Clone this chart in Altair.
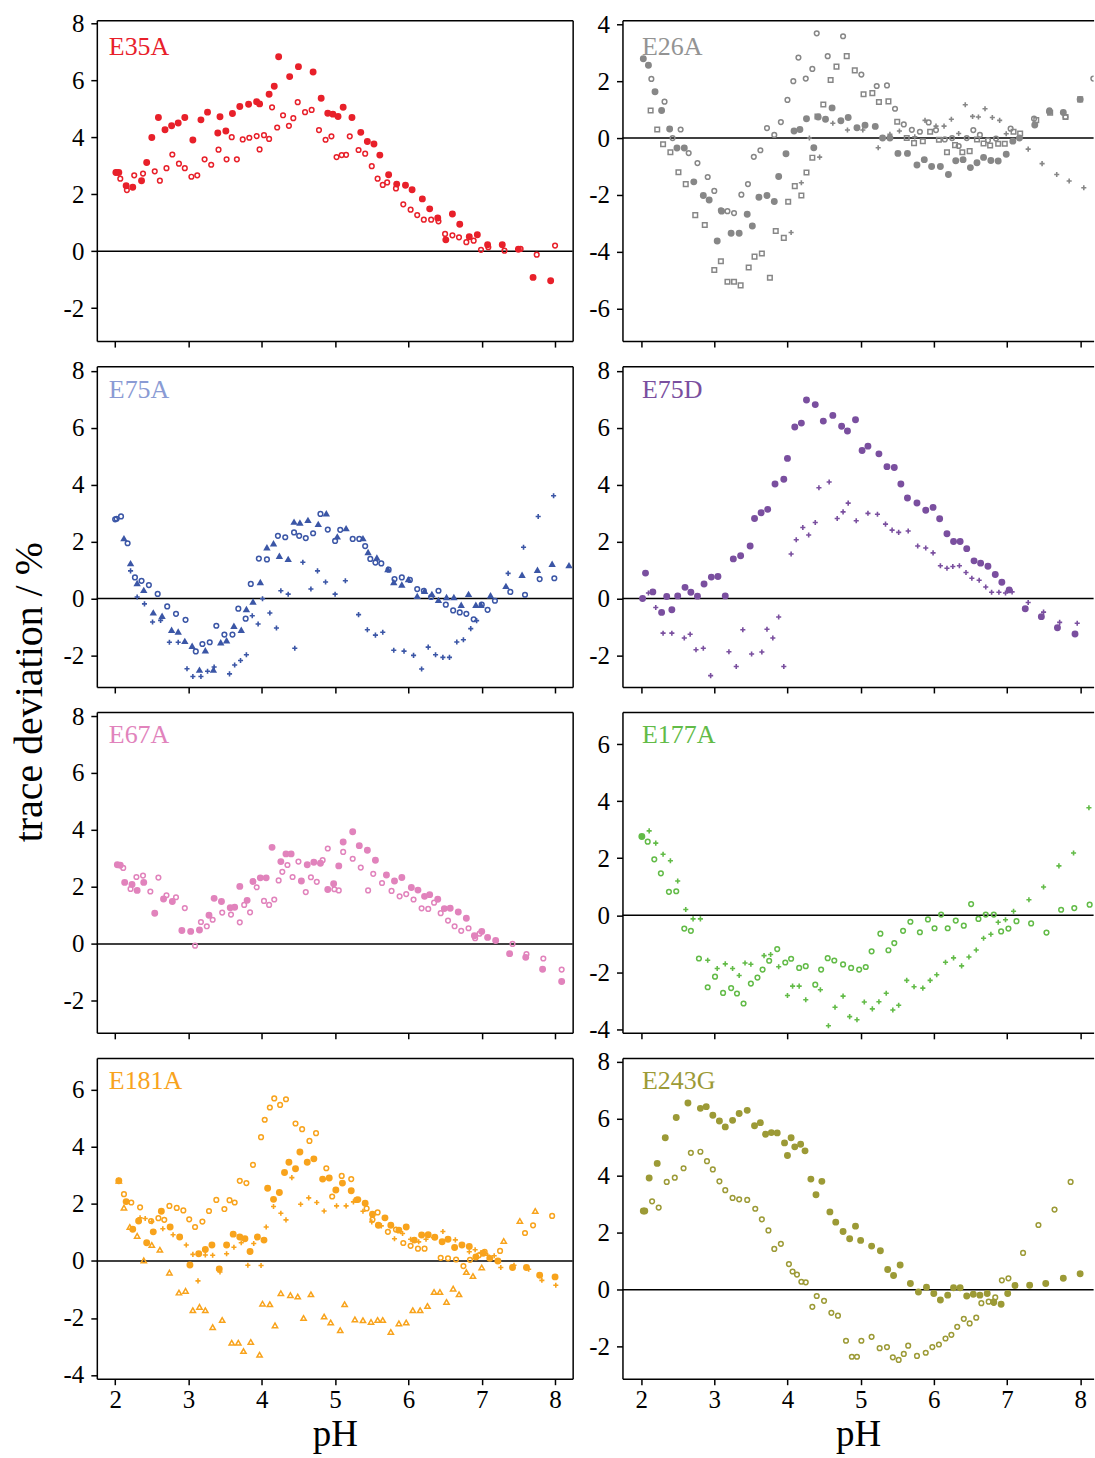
import altair as alt
import pandas as pd

FONT = "Liberation Serif"
PLUS = "M-1,0L1,0M0,-1L0,1"

# ---------------- data (pH, trace deviation %) ----------------
E35A_fc_ph = [2.01,2.05,2.15,2.24,2.36,2.43,2.50,2.59,2.68,2.77,2.86,2.95,3.06,3.17,3.26,3.40,3.43,3.51,3.60,3.70,3.82,3.93,3.97,4.10,4.17,4.23,4.38,4.50,4.70,4.81,4.90,4.97,5.04,5.11,5.23,5.35,5.44,5.53,5.61,5.73,5.84,5.96,6.05,6.19,6.29,6.40,6.51,6.60,6.70,6.83,6.94,7.08,7.28,7.50,7.70,7.94]
E35A_fc_v = [2.77,2.77,2.30,2.25,2.48,3.12,4.00,4.70,4.27,4.41,4.51,4.70,3.91,4.62,4.89,4.16,4.73,4.23,4.84,5.09,5.17,5.26,5.18,5.52,5.80,6.84,6.14,6.49,6.30,5.38,4.85,4.82,4.74,5.06,4.70,4.18,3.86,3.77,3.38,2.69,2.36,2.32,2.16,1.84,1.49,1.17,0.40,1.31,0.95,0.51,0.58,0.23,0.23,0.07,-0.92,-1.04]
E35A_oc_ph = [2.02,2.07,2.16,2.26,2.38,2.54,2.61,2.70,2.78,2.87,2.95,3.04,3.12,3.22,3.31,3.41,3.52,3.59,3.66,3.74,3.83,3.93,3.97,4.03,4.10,4.14,4.21,4.29,4.37,4.43,4.49,4.59,4.68,4.78,4.87,4.95,5.02,5.09,5.15,5.20,5.32,5.41,5.50,5.58,5.65,5.71,5.83,5.93,6.03,6.12,6.21,6.31,6.41,6.50,6.60,6.69,6.79,6.89,6.99,7.09,7.31,7.53,7.75,8.00]
E35A_oc_v = [2.77,2.55,2.15,2.67,2.73,2.81,2.48,2.92,3.40,3.08,2.92,2.62,2.67,3.23,3.04,3.57,3.23,4.01,3.23,3.93,3.99,4.05,3.58,4.08,3.95,5.06,4.35,4.78,4.41,4.68,5.24,4.89,4.97,4.26,3.92,4.04,3.31,3.38,3.39,4.04,3.56,3.43,2.99,2.55,2.33,2.42,2.21,1.65,1.46,1.27,1.11,1.11,1.05,0.61,0.56,0.49,0.32,0.37,0.05,0.14,0.02,0.08,-0.12,0.20]

E26A_fc_ph = [2.03,2.10,2.19,2.28,2.39,2.49,2.59,2.72,2.85,2.93,3.04,3.10,3.23,3.34,3.45,3.52,3.61,3.72,3.82,3.88,3.98,4.09,4.17,4.26,4.36,4.42,4.52,4.61,4.73,4.83,4.95,5.06,5.20,5.30,5.40,5.51,5.64,5.77,5.87,5.97,6.09,6.20,6.30,6.40,6.50,6.59,6.68,6.78,6.88,6.99,7.08,7.17,7.38,7.58,7.77,8.00]
E26A_fc_v = [2.79,2.56,1.63,0.97,0.32,-0.35,-0.35,-1.54,-2.02,-2.18,-3.62,-2.57,-3.35,-3.35,-2.68,-3.09,-2.08,-2.02,-2.23,-1.35,-0.55,0.25,0.30,0.68,-0.34,0.74,0.66,1.06,0.61,0.72,0.36,0.45,0.41,0.00,0.00,-0.54,-0.54,-0.95,-0.76,-1.00,-1.00,-1.28,-0.80,-0.76,-1.04,-0.87,-0.68,-0.79,-0.81,-0.57,-0.11,0.00,0.46,0.93,0.90,1.36]
E26A_oc_ph = [2.14,2.32,2.43,2.54,2.65,2.77,2.91,3.00,3.09,3.18,3.27,3.37,3.46,3.54,3.63,3.72,3.82,3.91,4.00,4.08,4.15,4.25,4.34,4.40,4.55,4.76,5.01,5.22,5.36,5.47,5.59,5.70,5.81,5.93,6.03,6.15,6.25,6.34,6.45,6.54,6.63,6.74,6.85,7.05,7.37,7.58,7.80,8.18]
E26A_oc_v = [2.08,1.28,0.00,0.30,-0.53,-0.88,-1.37,-1.86,-2.54,-2.57,-2.64,-1.99,-1.62,-0.66,-0.43,0.35,0.11,0.56,1.34,2.00,2.83,2.09,2.43,3.68,2.88,3.58,2.23,1.83,1.85,1.03,0.48,0.29,0.22,0.55,0.28,-0.05,0.00,-0.28,0.00,0.28,0.11,-0.08,-0.02,0.33,0.68,0.97,0.74,2.09]
E26A_os_ph = [2.13,2.22,2.30,2.40,2.51,2.61,2.74,2.87,3.00,3.09,3.18,3.27,3.36,3.47,3.55,3.65,3.76,3.84,3.95,4.01,4.10,4.19,4.26,4.34,4.41,4.49,4.59,4.67,4.81,4.92,5.04,5.16,5.25,5.38,5.50,5.63,5.73,5.85,5.95,6.07,6.18,6.29,6.39,6.49,6.59,6.68,6.77,6.88,6.97,7.09,7.18,7.40,7.59,7.80,8.00]
E26A_os_v = [0.97,0.30,-0.22,-0.50,-1.20,-1.62,-2.71,-3.06,-4.64,-4.33,-5.05,-5.05,-5.18,-4.55,-4.17,-4.06,-4.91,-3.27,-3.51,-2.24,-1.69,-2.02,-1.21,-0.69,0.76,1.18,2.04,2.51,2.88,2.38,1.54,1.58,1.27,1.29,0.57,0.00,-0.18,-0.11,0.22,-0.06,-0.50,-0.25,-0.50,-0.46,-0.05,-0.19,-0.26,-0.20,-0.20,0.22,0.16,0.63,0.89,0.74,1.36]
E26A_pl_ph = [4.05,4.19,4.30,4.44,4.62,4.82,5.03,5.24,5.40,5.53,5.74,5.88,6.03,6.14,6.24,6.34,6.43,6.53,6.61,6.70,6.80,6.90,6.99,7.29,7.48,7.68,7.85,8.05]
E26A_pl_v = [-3.32,-1.57,0.00,-0.67,0.52,0.28,0.28,-0.34,0.13,0.25,0.04,0.62,0.42,0.42,0.66,0.16,1.17,0.76,0.74,1.03,0.72,0.62,0.15,-0.39,-0.90,-1.28,-1.51,-1.75]

E75A_ft_ph = [2.12,2.21,2.30,2.39,2.52,2.64,2.77,2.86,2.95,3.05,3.15,3.23,3.34,3.44,3.52,3.62,3.72,3.79,3.88,3.98,4.07,4.16,4.24,4.36,4.44,4.52,4.63,4.77,4.88,5.03,5.15,5.38,5.45,5.57,5.72,5.80,5.91,6.00,6.12,6.22,6.32,6.41,6.52,6.62,6.72,6.82,6.92,6.99,7.12,7.33,7.55,7.76,7.96,8.19]
E75A_ft_v = [2.12,1.24,0.54,0.30,-0.49,-0.61,-1.10,-1.16,-1.49,-1.66,-2.50,-1.82,-2.50,-1.54,-1.47,-0.96,-1.10,-0.37,-0.11,0.58,1.80,1.94,1.50,1.39,2.70,2.67,2.76,2.62,2.99,2.18,2.47,2.12,1.63,1.44,1.03,0.58,0.49,0.68,0.09,0.27,0.16,-0.05,0.05,0.05,-0.22,0.16,-0.22,-0.22,0.11,0.44,0.83,1.01,1.22,1.17]
E75A_oc_ph = [2.00,2.02,2.08,2.17,2.27,2.36,2.46,2.58,2.71,2.83,2.96,3.10,3.19,3.29,3.38,3.49,3.60,3.68,3.78,3.85,3.96,4.07,4.22,4.32,4.44,4.51,4.60,4.70,4.80,4.90,5.00,5.07,5.24,5.33,5.41,5.48,5.55,5.63,5.73,5.81,5.91,6.02,6.12,6.21,6.31,6.41,6.51,6.61,6.70,6.79,6.89,7.00,7.08,7.18,7.39,7.59,7.79,7.99]
E75A_oc_v = [2.78,2.80,2.88,1.94,0.74,0.62,0.47,0.16,-0.28,-0.54,-0.75,-1.86,-1.60,-1.54,-0.96,-1.27,-1.27,-0.36,-0.71,0.51,1.40,1.37,2.20,2.15,2.32,2.20,2.12,2.29,2.97,2.42,2.02,2.41,2.09,2.09,1.84,1.39,1.26,1.23,1.01,0.68,0.74,0.65,0.33,0.27,0.05,0.27,-0.22,-0.42,-0.49,-0.54,-0.73,-0.22,-0.40,-0.08,0.23,0.13,0.68,0.71]
E75A_pl_ph = [2.21,2.30,2.40,2.51,2.62,2.74,2.86,2.98,3.06,3.17,3.26,3.35,3.56,3.63,3.71,3.79,3.87,3.95,4.01,4.11,4.20,4.26,4.36,4.45,4.56,4.67,4.76,4.87,5.00,5.14,5.32,5.44,5.55,5.65,5.80,5.94,6.07,6.18,6.27,6.37,6.47,6.56,6.66,6.75,6.85,6.93,7.36,7.57,7.77,7.98]
E75A_pl_v = [0.97,0.05,-0.19,-0.83,-0.77,-1.54,-1.54,-2.47,-2.74,-2.74,-2.56,-2.41,-2.65,-2.34,-2.18,-1.98,-0.61,-0.90,-0.01,-0.51,-1.04,0.27,0.15,-1.75,1.27,0.33,0.97,0.58,0.15,0.62,-0.57,-1.10,-1.29,-1.19,-1.82,-1.85,-2.00,-2.48,-1.71,-1.98,-2.07,-2.07,-1.53,-1.45,-1.06,-0.78,0.88,1.80,2.88,3.61]

E75D_fc_ph = [2.02,2.06,2.16,2.28,2.35,2.42,2.50,2.60,2.68,2.77,2.86,2.96,3.05,3.15,3.26,3.36,3.49,3.55,3.64,3.73,3.83,3.95,4.00,4.10,4.19,4.26,4.38,4.49,4.62,4.74,4.82,4.93,5.02,5.10,5.25,5.36,5.46,5.55,5.64,5.77,5.89,5.99,6.08,6.18,6.27,6.36,6.45,6.55,6.64,6.74,6.84,6.93,7.03,7.25,7.47,7.69,7.93]
E75D_fc_v = [0.00,0.89,0.23,-0.49,0.07,-0.40,0.09,0.39,0.22,0.08,0.51,0.75,0.77,0.09,1.39,1.50,1.84,2.81,3.01,3.13,4.02,4.19,4.92,6.02,6.16,6.97,6.81,6.23,6.43,6.05,5.88,6.28,5.20,5.35,5.08,4.63,4.60,4.02,3.53,3.35,3.10,3.20,2.80,2.27,2.00,2.00,1.75,1.32,1.24,1.13,0.84,0.57,0.30,-0.36,-0.64,-1.03,-1.25]
E75D_pl_ph = [2.10,2.20,2.30,2.42,2.59,2.67,2.75,2.85,2.95,3.20,3.30,3.39,3.51,3.65,3.72,3.80,3.88,3.95,4.05,4.12,4.21,4.29,4.38,4.43,4.57,4.68,4.76,4.83,4.94,5.10,5.23,5.34,5.43,5.52,5.65,5.78,5.89,5.99,6.09,6.18,6.26,6.35,6.44,6.52,6.62,6.71,6.79,6.89,6.98,7.07,7.29,7.50,7.72,7.96]
E75D_pl_v = [0.19,-0.32,-1.22,-1.22,-1.39,-1.26,-1.80,-1.75,-2.71,-1.87,-2.39,-1.10,-1.95,-1.88,-1.08,-1.39,-0.65,-2.39,1.56,2.06,2.49,2.23,2.67,3.89,4.09,2.81,3.04,3.35,2.73,2.99,2.96,2.61,2.40,2.32,2.37,1.84,1.77,1.60,1.15,1.06,1.12,1.15,0.91,0.71,0.64,0.40,0.22,0.22,0.19,0.23,-0.14,-0.48,-0.84,-0.87]

E67A_fc_ph = [2.03,2.07,2.13,2.23,2.30,2.39,2.54,2.66,2.78,2.91,3.03,3.15,3.28,3.35,3.45,3.57,3.63,3.70,3.80,3.88,3.98,4.06,4.14,4.26,4.33,4.40,4.54,4.62,4.71,4.80,4.90,4.98,5.05,5.11,5.24,5.33,5.44,5.55,5.70,5.81,5.91,6.04,6.13,6.22,6.29,6.40,6.49,6.57,6.68,6.79,6.90,7.00,7.08,7.19,7.38,7.60,7.83,8.09]
E67A_fc_v = [2.78,2.76,2.16,2.09,1.88,2.16,1.08,1.58,1.49,0.47,0.44,0.49,1.01,1.60,1.49,1.27,1.29,2.02,1.53,2.19,2.32,2.32,3.39,2.89,3.16,3.16,2.21,2.78,2.87,2.83,1.91,2.11,2.74,3.58,3.94,3.45,3.29,2.94,2.42,2.21,2.33,1.98,1.89,1.67,1.73,1.57,1.24,1.25,1.12,0.90,0.29,0.44,0.23,0.12,-0.34,-0.47,-0.89,-1.32]
E67A_oc_ph = [2.11,2.21,2.29,2.38,2.48,2.59,2.70,2.83,2.95,3.09,3.17,3.25,3.33,3.46,3.58,3.70,3.76,3.84,3.93,4.03,4.10,4.17,4.23,4.28,4.35,4.42,4.50,4.60,4.67,4.75,4.83,4.90,4.99,5.05,5.11,5.24,5.35,5.45,5.52,5.64,5.77,5.88,5.97,6.07,6.18,6.27,6.35,6.44,6.54,6.63,6.72,6.82,6.91,6.97,7.42,7.61,7.84,8.09]
E67A_oc_v = [2.67,1.93,2.35,2.40,1.84,2.33,1.71,1.64,1.26,-0.06,0.77,0.62,0.85,1.10,1.03,0.76,1.37,1.11,1.99,1.51,1.37,1.56,2.23,2.53,2.77,2.35,2.89,1.82,2.34,2.18,2.94,3.35,1.92,1.88,3.23,2.99,2.68,1.88,2.46,2.14,1.86,1.67,1.75,1.56,1.25,1.23,1.45,1.08,0.82,0.62,0.46,0.55,0.20,0.36,0.00,-0.36,-0.51,-0.90]

E177A_fc_ph = [2.01]
E177A_fc_v = [2.76]
E177A_oc_ph = [2.09,2.18,2.27,2.38,2.48,2.59,2.68,2.79,2.91,3.01,3.12,3.23,3.31,3.40,3.50,3.59,3.66,3.75,3.86,3.97,4.05,4.16,4.25,4.38,4.46,4.55,4.64,4.76,4.87,4.98,5.07,5.15,5.27,5.38,5.46,5.58,5.68,5.81,5.92,6.01,6.10,6.19,6.30,6.41,6.51,6.61,6.71,6.82,6.92,7.02,7.13,7.33,7.54,7.74,7.92,8.13]
E177A_oc_v = [2.58,1.96,1.47,0.82,0.84,-0.47,-0.55,-1.52,-2.53,-2.16,-2.73,-2.56,-2.75,-3.10,-2.40,-2.19,-1.91,-1.60,-1.19,-1.66,-1.53,-1.85,-1.79,-2.44,-1.91,-1.51,-1.59,-1.73,-1.85,-1.91,-1.82,-1.27,-0.65,-1.23,-0.98,-0.55,-0.23,-0.60,-0.15,-0.46,0.02,-0.46,-0.19,-0.37,0.39,-0.13,0.02,0.02,-0.57,-0.47,-0.21,-0.29,-0.61,0.19,0.25,0.37]
E177A_pl_ph = [2.11,2.20,2.30,2.40,2.50,2.61,2.71,2.81,2.91,3.04,3.15,3.25,3.34,3.42,3.50,3.68,3.77,3.88,4.00,4.07,4.16,4.25,4.45,4.56,4.65,4.76,4.85,4.95,5.05,5.16,5.25,5.35,5.44,5.52,5.63,5.73,5.85,5.95,6.04,6.16,6.27,6.38,6.48,6.58,6.68,6.78,6.88,6.98,7.09,7.30,7.50,7.71,7.91,8.12]
E177A_pl_v = [2.96,2.53,2.14,1.91,1.20,0.20,-0.13,-0.13,-1.58,-1.87,-1.71,-1.87,-2.12,-1.68,-1.72,-1.42,-1.38,-1.81,-2.82,-2.49,-2.49,-2.97,-2.62,-3.88,-3.23,-2.84,-3.56,-3.67,-3.05,-3.29,-3.04,-2.74,-3.33,-3.16,-2.29,-2.51,-2.56,-2.29,-2.09,-1.65,-1.50,-1.78,-1.47,-1.22,-0.81,-0.67,-0.25,-0.16,0.14,0.54,0.99,1.73,2.18,3.77]

E181A_fc_ph = [2.05,2.15,2.24,2.32,2.43,2.52,2.63,2.75,2.88,3.02,3.14,3.23,3.32,3.42,3.52,3.61,3.70,3.77,3.84,3.94,4.03,4.08,4.16,4.24,4.31,4.37,4.46,4.52,4.62,4.71,4.83,4.92,5.01,5.10,5.22,5.31,5.41,5.51,5.59,5.68,5.76,5.87,5.97,6.08,6.18,6.27,6.36,6.46,6.54,6.63,6.73,6.83,6.92,7.02,7.11,7.22,7.42,7.61,7.79,8.00]
E181A_fc_v = [2.81,2.08,1.11,1.40,0.64,1.02,1.74,1.19,0.84,-0.14,0.25,0.40,0.56,-0.28,0.56,0.94,0.84,0.78,0.33,0.84,0.73,2.55,2.16,2.40,3.10,3.46,3.23,3.82,3.46,3.58,2.87,2.91,2.49,2.73,2.46,2.15,2.02,1.64,1.25,1.51,1.25,1.08,1.19,0.73,0.91,0.92,0.83,0.67,0.76,0.47,0.56,0.51,0.14,0.27,0.09,0.00,-0.23,-0.23,-0.50,-0.56]
E181A_oc_ph = [2.12,2.22,2.34,2.49,2.59,2.67,2.74,2.84,2.93,3.01,3.09,3.19,3.28,3.38,3.49,3.56,3.63,3.70,3.79,3.88,3.99,4.04,4.11,4.17,4.25,4.33,4.46,4.55,4.65,4.74,4.88,4.96,5.09,5.22,5.29,5.43,5.51,5.58,5.72,5.83,5.93,6.03,6.13,6.22,6.44,6.54,6.65,6.75,6.84,6.96,7.04,7.25,7.59,7.70,7.96]
E181A_oc_v = [2.34,2.05,1.88,1.40,1.50,1.44,1.93,1.86,1.77,1.46,1.19,1.38,1.75,2.14,1.82,2.13,2.05,2.81,2.73,3.37,4.34,4.95,5.38,5.70,5.47,5.67,4.82,4.62,4.21,4.48,3.25,2.26,2.98,2.87,2.14,1.84,1.45,1.70,1.02,1.10,0.63,0.53,0.43,0.43,0.11,0.09,0.05,-0.18,0.04,0.20,0.32,0.35,0.98,1.25,1.58]
E181A_ot_ph = [2.05,2.12,2.20,2.30,2.39,2.50,2.61,2.74,2.87,2.96,3.06,3.15,3.23,3.33,3.46,3.59,3.68,3.75,3.85,3.97,4.01,4.11,4.18,4.26,4.39,4.49,4.57,4.67,4.85,4.94,5.07,5.13,5.27,5.38,5.49,5.58,5.65,5.76,5.87,5.97,6.06,6.16,6.26,6.35,6.43,6.52,6.61,6.69,6.79,6.88,7.00,7.30,7.52,7.73]
E181A_ot_v = [2.81,1.87,1.19,0.88,0.02,0.56,0.39,-0.41,-1.11,-1.05,-1.73,-1.61,-1.73,-2.32,-2.07,-2.87,-2.87,-3.16,-2.84,-3.29,-1.50,-1.52,-2.26,-1.13,-1.20,-1.25,-2.00,-1.17,-1.95,-2.16,-2.43,-1.52,-2.05,-2.08,-2.14,-2.07,-2.07,-2.49,-2.19,-2.16,-1.73,-1.73,-1.58,-1.09,-1.09,-1.44,-0.97,-1.17,-0.39,-0.53,-0.23,0.70,1.40,1.75]
E181A_pl_ph = [2.34,2.41,2.50,2.65,2.79,2.97,3.06,3.13,3.23,3.33,3.43,3.52,3.62,3.72,3.81,3.89,3.99,4.06,4.16,4.26,4.33,4.41,4.53,4.64,4.75,4.85,5.02,5.15,5.25,5.38,5.50,5.63,5.81,5.92,6.03,6.14,6.24,6.34,6.47,6.64,6.83,6.91,6.99,7.08,7.17,7.26,7.44,7.64,7.82,8.01]
E181A_pl_v = [1.51,1.49,1.38,1.13,0.92,0.56,0.23,-0.70,0.21,0.20,-0.39,0.25,0.48,0.64,-0.15,0.61,-0.16,1.19,1.91,1.67,1.44,2.92,1.99,2.21,2.05,1.75,1.93,1.93,2.07,1.74,1.37,1.23,0.78,0.96,0.76,0.67,0.76,0.82,1.03,0.74,0.32,0.39,0.29,0.20,0.18,-0.23,-0.15,-0.29,-0.68,-0.85]

E243G_fc_ph = [2.03,2.05,2.11,2.22,2.33,2.48,2.64,2.81,2.89,2.98,3.07,3.15,3.25,3.34,3.45,3.55,3.63,3.70,3.78,3.86,3.96,4.00,4.05,4.10,4.18,4.24,4.32,4.39,4.47,4.58,4.66,4.76,4.85,4.93,5.00,5.15,5.27,5.37,5.45,5.54,5.68,5.79,5.90,6.00,6.09,6.19,6.27,6.36,6.45,6.54,6.63,6.73,6.82,6.92,7.01,7.11,7.31,7.53,7.77,8.00]
E243G_fc_v = [2.76,2.76,3.92,4.43,5.33,6.04,6.55,6.36,6.42,6.12,5.92,5.71,5.94,6.18,6.29,5.75,5.86,5.45,5.51,5.50,5.15,4.71,5.33,5.01,5.10,4.87,3.88,3.33,3.80,2.73,2.37,2.04,1.79,2.23,1.73,1.53,1.37,0.71,0.50,0.87,0.22,-0.08,0.09,-0.13,-0.36,-0.19,0.07,0.07,-0.22,-0.16,-0.19,-0.13,-0.43,-0.51,-0.13,0.15,0.16,0.22,0.40,0.56]
E243G_oc_ph = [2.15,2.24,2.35,2.46,2.58,2.68,2.81,2.90,2.98,3.07,3.15,3.25,3.34,3.45,3.56,3.65,3.74,3.82,3.91,4.02,4.07,4.13,4.19,4.25,4.34,4.40,4.50,4.60,4.69,4.80,4.88,4.95,5.01,5.15,5.26,5.36,5.44,5.52,5.59,5.65,5.77,5.89,5.98,6.07,6.16,6.24,6.32,6.41,6.49,6.58,6.65,6.75,6.82,6.84,6.93,7.02,7.22,7.43,7.65,7.87]
E243G_oc_v = [3.10,2.88,3.78,3.93,4.26,4.80,4.84,4.51,4.22,3.80,3.49,3.22,3.17,3.15,2.84,2.47,2.08,1.43,1.61,0.90,0.64,0.53,0.28,0.26,-0.60,-0.22,-0.39,-0.81,-0.91,-1.79,-2.35,-2.35,-1.79,-1.65,-2.05,-2.01,-2.37,-2.46,-2.25,-1.96,-2.32,-2.21,-2.01,-1.92,-1.71,-1.58,-1.30,-1.02,-1.18,-0.98,-0.47,-0.42,-0.46,-0.27,0.33,0.40,1.29,2.27,2.81,3.78]

X_TICKS = [2, 3, 4, 5, 6, 7, 8]
Y_TICKS_A = [-2, 0, 2, 4, 6, 8]
Y_TICKS_B = [-6, -4, -2, 0, 2, 4]
Y_TICKS_C = [-4, -2, 0, 2, 4, 6]

# name, point colour, label colour, y domain, y ticks, series
PANELS = [
    ("E35A", "#e8202a", "#e8202a", [-3.16, 8.12], Y_TICKS_A,
     [("fc", E35A_fc_ph, E35A_fc_v), ("oc", E35A_oc_ph, E35A_oc_v)]),
    ("E26A", "#878787", "#939393", [-7.14, 4.14], Y_TICKS_B,
     [("os", E26A_os_ph, E26A_os_v), ("oc", E26A_oc_ph, E26A_oc_v),
      ("pl", E26A_pl_ph, E26A_pl_v), ("fc", E26A_fc_ph, E26A_fc_v)]),
    ("E75A", "#3b56a6", "#8a9bd4", [-3.11, 8.16], Y_TICKS_A,
     [("pl", E75A_pl_ph, E75A_pl_v), ("oc", E75A_oc_ph, E75A_oc_v), ("ft", E75A_ft_ph, E75A_ft_v)]),
    ("E75D", "#7a4f9f", "#7a4f9f", [-3.11, 8.16], Y_TICKS_A,
     [("pl", E75D_pl_ph, E75D_pl_v), ("fc", E75D_fc_ph, E75D_fc_v)]),
    ("E67A", "#e183bc", "#e183bc", [-3.12, 8.14], Y_TICKS_A,
     [("oc", E67A_oc_ph, E67A_oc_v), ("fc", E67A_fc_ph, E67A_fc_v)]),
    ("E177A", "#62bb47", "#62bb47", [-4.13, 7.13], Y_TICKS_C,
     [("pl", E177A_pl_ph, E177A_pl_v), ("oc", E177A_oc_ph, E177A_oc_v), ("fc", E177A_fc_ph, E177A_fc_v)]),
    ("E181A", "#f8a31c", "#f8a31c", [-4.13, 7.12], Y_TICKS_C,
     [("ot", E181A_ot_ph, E181A_ot_v), ("pl", E181A_pl_ph, E181A_pl_v),
      ("oc", E181A_oc_ph, E181A_oc_v), ("fc", E181A_fc_ph, E181A_fc_v)]),
    ("E243G", "#9c9a36", "#9c9a36", [-3.12, 8.13], Y_TICKS_A,
     [("oc", E243G_oc_ph, E243G_oc_v), ("fc", E243G_fc_ph, E243G_fc_v)]),
]

STYLE = {
    "fc": dict(shape="circle", size=48, filled=True),
    "oc": dict(shape="circle", size=22, filled=False, strokeWidth=1.5),
    "os": dict(shape="square", size=21, filled=False, strokeWidth=1.5),
    "pl": dict(shape=PLUS, size=26, filled=False, strokeWidth=1.6),
    "ft": dict(shape="triangle-up", size=55, filled=True),
    "ot": dict(shape="triangle-up", size=28, filled=False, strokeWidth=1.5),
}

LABEL_EXPR = "datum.value + ''"
PANEL_H = 321.4


def make_panel(i, spec):
    name, color, lcolor, ydom, yticks, series = spec
    row, col = divmod(i, 2)
    left = col == 0
    bottom = row == 3
    xdom = [1.75, 8.24] if left else [1.745, 8.184]
    width = 476.7 if left else 472

    def xs():
        return alt.Scale(domain=xdom, nice=False, zero=False)

    def ys():
        return alt.Scale(domain=ydom, nice=False, zero=False)

    frame_df = pd.DataFrame({"x0": [xdom[0]], "x1": [xdom[1]], "y0": [0.0]})
    zero = alt.Chart(frame_df).mark_rule(color="black", strokeWidth=1.5).encode(
        x=alt.X("x0:Q", scale=xs(),
                axis=alt.Axis(orient="top", domain=True, ticks=False, labels=False,
                              title=None, grid=False)),
        x2="x1",
        y=alt.Y("y0:Q", scale=ys(),
                axis=(alt.Axis(orient="right", domain=True, ticks=False, labels=False,
                               title=None, grid=False) if left else None)),
    )

    layers = [zero]
    for k, (key, ph, vals) in enumerate(series):
        df = pd.DataFrame({"pH": ph, "v": vals})
        st = STYLE[key]
        if k == 0:
            xaxis = alt.Axis(orient="bottom", values=X_TICKS, labels=bottom,
                             labelExpr=LABEL_EXPR, labelPadding=3,
                             title="pH" if bottom else None, titlePadding=4)
            yaxis = alt.Axis(orient="left", values=yticks, labelExpr=LABEL_EXPR,
                             labelPadding=7, title=None)
        else:
            xaxis = None
            yaxis = None
        mk = dict(shape=st["shape"], size=st["size"], filled=st["filled"],
                  color=color, opacity=1, clip=True)
        if not st["filled"]:
            mk["strokeWidth"] = st["strokeWidth"]
        layers.append(
            alt.Chart(df).mark_point(**mk).encode(
                x=alt.X("pH:Q", scale=xs(), axis=xaxis),
                y=alt.Y("v:Q", scale=ys(), axis=yaxis),
            )
        )

    label = alt.Chart(pd.DataFrame({"t": [name]})).mark_text(
        font=FONT, fontSize=26, color=lcolor, align="left", baseline="alphabetic"
    ).encode(
        text="t:N",
        x=alt.value(12 if left else 19.5),
        y=alt.value(35 if row == 0 else 31.5),
    )
    layers.append(label)

    return alt.layer(*layers).resolve_axis(x="independent", y="independent").properties(
        width=width, height=PANEL_H
    )


panels = [make_panel(i, p) for i, p in enumerate(PANELS)]

chart = alt.concat(
    *panels, columns=2, spacing={"row": 24.5, "column": 49.6}, bounds="flush"
).properties(
    title=alt.TitleParams(
        "trace deviation / %", orient="left", anchor="middle", font=FONT,
        fontSize=40, fontWeight="normal", color="black", offset=13, dx=40
    ),
    padding={"left": 10, "top": 10, "right": 0, "bottom": 0},
    background="white",
).configure_view(
    stroke=None
).configure_axis(
    domainColor="black", domainWidth=1.5, tickColor="black", tickWidth=1.5,
    tickSize=6, labelFont=FONT, labelFontSize=25, labelColor="black",
    titleFont=FONT, titleFontSize=37, titleFontWeight="normal", titleColor="black",
    grid=False,
)

chart.save("out.html", embed_options={"renderer": "svg", "actions": False})
